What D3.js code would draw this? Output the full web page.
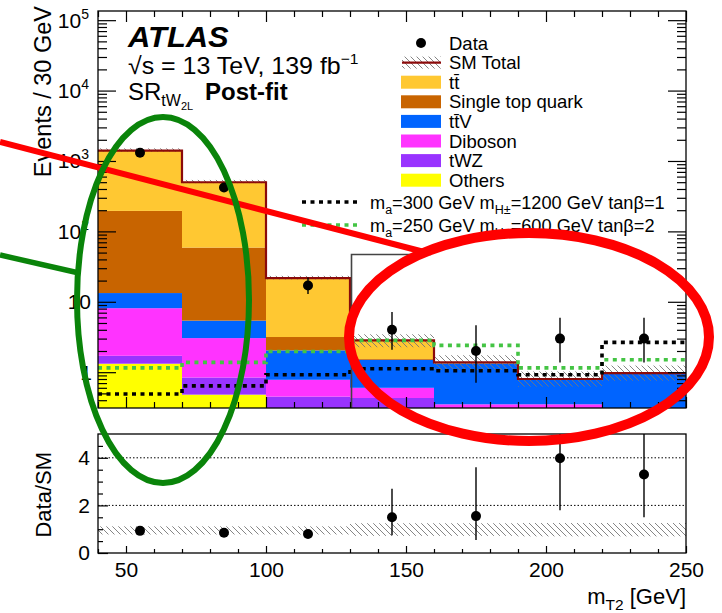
<!DOCTYPE html>
<html>
<head>
<meta charset="utf-8">
<script src="https://cdn.jsdelivr.net/npm/d3@7"></script>
<style>
  body { margin: 0; background: #fff; }
  svg { display: block; font-family: "Liberation Sans", Arial, Helvetica, sans-serif; }
</style>
</head>
<body>
<div id="viz"></div>
<script>
// ---- data ----
const binEdges = [40, 70, 100, 130, 160, 190, 220, 250];

const ttbar     = [1205, 440, 18.5, 1.29, 0.04, 0.01, 0.01];
const singleTop = [182, 53.5, 1.12, 0.04, 0.01, 0.01, 0.01];
const ttV       = [5.2, 2.35, 1.26, 0.90, 0.98, 0.43, 0.74];
const diboson   = [6.4, 2.21, 0.33, 0.17, 0.34, 0.34, 0.20];
const tWZ       = [0.39, 0.36, 0.43, 0.42, 0.005, 0.005, 0.005];
const others    = [1.32, 0.48, 0.02, 0.01, 0.005, 0.005, 0.005];

// relative SM uncertainty (upper panel hatch)
const smUncDown = [0.97, 0.97, 0.96, 0.80, 0.78, 0.78, 0.78];
const smUncUp   = [1.08, 1.08, 1.08, 1.22, 1.26, 1.28, 1.28];

const dataVals  = [1310, 420, 17, 4, 2, 3, 3];
const dataErrLo = [36, 20, 4.1, 1.91, 1.29, 1.63, 1.63];
const dataErrHi = [37, 21, 5.2, 3.16, 2.64, 2.92, 2.92];

const sigA = [0.49, 0.64, 0.92, 1.12, 1.05, 0.92, 2.65]; // ma=300, mH=1200, tanb=1
const sigB = [1.15, 1.38, 1.97, 2.83, 2.40, 1.15, 1.50]; // ma=250, mH=600, tanb=2

const ratioVals  = [0.93, 0.85, 0.80, 1.50, 1.55, 3.98, 3.30];
const ratioLow   = [0.90, 0.82, 0.72, 0.75, 0.55, 1.80, 1.50];
const ratioHigh  = [0.96, 0.88, 0.90, 2.70, 3.60, 7.40, 6.20];
const ratioBandLo = [0.78, 0.78, 0.78, 0.72, 0.72, 0.70, 0.70];
const ratioBandHi = [1.12, 1.12, 1.12, 1.25, 1.25, 1.26, 1.26];

const xTicksMajor = [50, 100, 150, 200, 250];
const ratioTicks = [0, 2, 4];
const ratioGrid = [2, 4];

const stackOrder = ["others", "tWZ", "diboson", "ttV", "singleTop", "ttbar"];
const colors = {
  ttbar: "#FFC832", singleTop: "#C86400", ttV: "#0064FF",
  diboson: "#FF33FF", tWZ: "#9933FF", others: "#FFFF00"
};
const legendLabels = [
  ["ttbar", [["tt\u0304"]]],
  ["singleTop", [["Single top quark"]]],
  ["ttV", [["tt\u0304V"]]],
  ["diboson", [["Diboson"]]],
  ["tWZ", [["tWZ"]]],
  ["others", [["Others"]]]
];

// ---- layout ----
const W = 722, H = 613;
const x = d3.scaleLinear().domain([40, 250]).range([98, 686]);
const yMin = 0.31, yMax = 1.35e5;
const y = d3.scaleLog().domain([yMin, yMax]).range([408, 11]);
const yr = d3.scaleLinear().domain([0, 5]).range([553, 434]);
const cl = v => Math.min(Math.max(v, yMin), yMax);

const svg = d3.select("#viz").append("svg")
  .attr("width", W).attr("height", H);

const defs = svg.append("defs");
const pat = defs.append("pattern")
  .attr("id", "hatch").attr("patternUnits", "userSpaceOnUse")
  .attr("width", 6).attr("height", 6);
pat.append("path").attr("d", "M-1,-1L7,7M-1,5L1,7M5,-1L7,1")
  .attr("stroke", "#777").attr("stroke-width", 0.9);

defs.append("clipPath").attr("id", "clipTop").append("rect")
  .attr("x", 98).attr("y", 11).attr("width", 588).attr("height", 397);
defs.append("clipPath").attr("id", "clipBot").append("rect")
  .attr("x", 98).attr("y", 434).attr("width", 588).attr("height", 119);

// rich text helper: segments [text, shiftPx, sizePx, weight]
function rich(g, px, py, segs, size, anchor, sx) {
  const t = g.append("text")
    .attr("transform", `translate(${px},${py}) scale(${sx || 1},1)`)
    .attr("font-size", size).attr("text-anchor", anchor || "start");
  let prev = 0;
  segs.forEach(s => {
    const sh = s[1] || 0;
    t.append("tspan").attr("dy", sh - prev)
      .attr("font-size", s[2] || size)
      .attr("font-weight", s[3] || null)
      .text(s[0]);
    prev = sh;
  });
  return t;
}

// ---- upper panel ----
const rows = binEdges.slice(0, -1).map((e, i) => ({
  ttbar: ttbar[i], singleTop: singleTop[i], ttV: ttV[i],
  diboson: diboson[i], tWZ: tWZ[i], others: others[i]
}));
const stacked = d3.stack().keys(stackOrder)(rows);
const smTotal = rows.map(r => d3.sum(stackOrder, k => r[k]));

const upper = svg.append("g").attr("clip-path", "url(#clipTop)");

upper.selectAll("g.layer")
  .data(stacked)
  .join("g")
    .attr("class", "layer")
    .attr("fill", d => colors[d.key])
  .selectAll("rect")
  .data(d => d)
  .join("rect")
    .attr("x", (d, i) => x(binEdges[i]))
    .attr("width", (d, i) => x(binEdges[i + 1]) - x(binEdges[i]))
    .attr("y", d => y(cl(d[1])))
    .attr("height", d => y(cl(d[0])) - y(cl(d[1])));

// SM uncertainty hatch
upper.selectAll("rect.unc")
  .data(smTotal)
  .join("rect")
    .attr("class", "unc")
    .attr("x", (d, i) => x(binEdges[i]))
    .attr("width", (d, i) => x(binEdges[i + 1]) - x(binEdges[i]))
    .attr("y", (d, i) => y(cl(d * smUncUp[i])))
    .attr("height", (d, i) => y(cl(d * smUncDown[i])) - y(cl(d * smUncUp[i])))
    .attr("fill", "url(#hatch)");

const stepLine = d3.line()
  .x(d => x(d[0])).y(d => y(cl(d[1])))
  .curve(d3.curveStepAfter);
const stepPts = vals => vals.map((v, i) => [binEdges[i], v]).concat([[binEdges[vals.length], vals[vals.length - 1]]]);

upper.append("path")
  .attr("d", stepLine(stepPts(smTotal)))
  .attr("fill", "none").attr("stroke", "#8B0A0A").attr("stroke-width", 2.2);

upper.append("path")
  .attr("d", stepLine(stepPts(sigB)))
  .attr("fill", "none").attr("stroke", "#44C444").attr("stroke-width", 3.6)
  .attr("stroke-dasharray", "4,4.5");

upper.append("path")
  .attr("d", stepLine(stepPts(sigA)))
  .attr("fill", "none").attr("stroke", "#000").attr("stroke-width", 3.6)
  .attr("stroke-dasharray", "4,4.5");

// grey outline box at 130 GeV
const boxTop = 47, boxRight = 159;
upper.append("path")
  .attr("d", `M${x(binEdges[3]) + 1.5},${y(yMin)}V${y(boxTop)}H${x(boxRight)}`)
  .attr("fill", "none").attr("stroke", "#444").attr("stroke-width", 1.6);

// data
const centers = binEdges.slice(0, -1).map((e, i) => (e + binEdges[i + 1]) / 2);
const dataG = upper.append("g");
dataG.selectAll("line")
  .data(dataVals)
  .join("line")
    .attr("x1", (d, i) => x(centers[i])).attr("x2", (d, i) => x(centers[i]))
    .attr("y1", (d, i) => y(cl(d - dataErrLo[i])))
    .attr("y2", (d, i) => y(cl(d + dataErrHi[i])))
    .attr("stroke", "#000").attr("stroke-width", 1.4);
dataG.selectAll("circle")
  .data(dataVals)
  .join("circle")
    .attr("cx", (d, i) => x(centers[i])).attr("cy", d => y(d))
    .attr("r", 5).attr("fill", "#000");

// frame + ticks (upper)
svg.append("rect").attr("x", 98).attr("y", 11).attr("width", 588).attr("height", 397)
  .attr("fill", "none").attr("stroke", "#000").attr("stroke-width", 1.3);

const logMajors = d3.range(0, 6).map(k => Math.pow(10, k));
const logMinors = [];
for (let k = -1; k <= 5; k++) for (let m = 2; m <= 9; m++) {
  const v = m * Math.pow(10, k);
  if (v > yMin && v < yMax) logMinors.push(v);
}
const xMinors = d3.range(40, 251, 10).filter(v => !xTicksMajor.includes(v));

function tickAxis(axis, tx, ty) {
  const g = svg.append("g").attr("transform", `translate(${tx},${ty})`).call(axis);
  g.select(".domain").remove();
  g.selectAll("line").attr("stroke", "#000").attr("stroke-width", 1.2);
  return g;
}
tickAxis(d3.axisLeft(y).tickValues(logMajors).tickSize(-18).tickFormat(""), 98, 0);
tickAxis(d3.axisLeft(y).tickValues(logMinors).tickSize(-9).tickFormat(""), 98, 0);
tickAxis(d3.axisRight(y).tickValues(logMajors).tickSize(-18).tickFormat(""), 686, 0);
tickAxis(d3.axisRight(y).tickValues(logMinors).tickSize(-9).tickFormat(""), 686, 0);
tickAxis(d3.axisBottom(x).tickValues(xTicksMajor).tickSize(-11).tickFormat(""), 0, 408);
tickAxis(d3.axisBottom(x).tickValues(xMinors).tickSize(-6).tickFormat(""), 0, 408);
tickAxis(d3.axisTop(x).tickValues(xTicksMajor).tickSize(-11).tickFormat(""), 0, 11);
tickAxis(d3.axisTop(x).tickValues(xMinors).tickSize(-6).tickFormat(""), 0, 11);

// log labels
const labG = svg.append("g").attr("fill", "#000");
logMajors.forEach((v, k) => {
  const py = y(v) + 7.5;
  if (k === 0) rich(labG, 92, py, [["1"]], 21, "end");
  else if (k === 1) rich(labG, 91, py, [["10"]], 21, "end");
  else rich(labG, 89, py, [["10"], [String(k), -9, 14]], 21, "end");
});

// y title
svg.append("text")
  .attr("transform", "translate(51,6) rotate(-90)")
  .attr("text-anchor", "end").attr("font-size", 23.5)
  .text("Events / 30 GeV");

// ATLAS labels
rich(svg, 128, 47, [["ATLAS", 0, 30, "bold"]], 30, "start", 1.03)
  .attr("font-style", "italic");
rich(svg, 128, 74, [["\u221As = 13 TeV, 139 fb"], ["\u22121", -10, 15]], 24, "start", 1.04);
rich(svg, 128, 100, [["SR"], ["tW", 6, 16], ["2L", 10, 11], ["", 0, 16]], 24);
svg.append("text").attr("x", 205).attr("y", 100)
  .attr("font-size", 24).attr("font-weight", "bold").text("Post-fit");

// legend
const leg = svg.append("g");
const legX = 449, legRow = 19.6, legY0 = 43, legFs = 18.5;
leg.append("circle").attr("cx", 421).attr("cy", legY0).attr("r", 5).attr("fill", "#000");
rich(leg, legX, legY0 + 6.5, [["Data"]], legFs);
leg.append("rect").attr("x", 402).attr("y", legY0 + legRow - 6).attr("width", 39).attr("height", 12)
  .attr("fill", "url(#hatch)");
leg.append("line").attr("x1", 402).attr("x2", 441)
  .attr("y1", legY0 + legRow).attr("y2", legY0 + legRow)
  .attr("stroke", "#8B0A0A").attr("stroke-width", 2.2);
rich(leg, legX, legY0 + legRow + 6.5, [["SM Total"]], legFs);
legendLabels.forEach((d, i) => {
  const cy = legY0 + legRow * (i + 2);
  leg.append("rect").attr("x", 401).attr("y", cy - 6.5).attr("width", 40).attr("height", 13)
    .attr("fill", colors[d[0]]);
  rich(leg, legX, cy + 6.5, d[1], legFs);
});

// signal legend
const sigLeg = [
  ["#000", 202, "300", "1200", "1"],
  ["#44C444", 225, "250", "600", "2"]
];
sigLeg.forEach(s => {
  leg.append("line").attr("x1", 302).attr("x2", 357).attr("y1", s[1]).attr("y2", s[1])
    .attr("stroke", s[0]).attr("stroke-width", 3.6).attr("stroke-dasharray", "4,4.5");
  rich(leg, 370, s[1] + 6.5, [
    ["m"], ["a", 5, 12.5], ["=" + s[2] + " GeV m", 0, 18.2], ["H\u00B1", 5, 12.5],
    ["=" + s[3] + " GeV tan\u03B2=" + s[4], 0, 18.2]
  ], 18.2);
});

// ---- lower panel ----
const bot = svg.append("g").attr("clip-path", "url(#clipBot)");
bot.selectAll("line.grid")
  .data(ratioGrid)
  .join("line")
    .attr("class", "grid")
    .attr("x1", 98).attr("x2", 686)
    .attr("y1", d => yr(d)).attr("y2", d => yr(d))
    .attr("stroke", "#000").attr("stroke-width", 1).attr("stroke-dasharray", "1.5,2");

bot.selectAll("rect.band")
  .data(ratioBandLo)
  .join("rect")
    .attr("class", "band")
    .attr("x", (d, i) => x(binEdges[i]))
    .attr("width", (d, i) => x(binEdges[i + 1]) - x(binEdges[i]))
    .attr("y", (d, i) => yr(ratioBandHi[i]))
    .attr("height", (d, i) => yr(d) - yr(ratioBandHi[i]))
    .attr("fill", "url(#hatch)");

bot.selectAll("line.err")
  .data(ratioVals)
  .join("line")
    .attr("class", "err")
    .attr("x1", (d, i) => x(centers[i])).attr("x2", (d, i) => x(centers[i]))
    .attr("y1", (d, i) => yr(ratioLow[i])).attr("y2", (d, i) => yr(ratioHigh[i]))
    .attr("stroke", "#000").attr("stroke-width", 1.4);
bot.selectAll("circle")
  .data(ratioVals)
  .join("circle")
    .attr("cx", (d, i) => x(centers[i])).attr("cy", d => yr(d))
    .attr("r", 5).attr("fill", "#000");

svg.append("rect").attr("x", 98).attr("y", 434).attr("width", 588).attr("height", 119)
  .attr("fill", "none").attr("stroke", "#000").attr("stroke-width", 1.3);

const xb = tickAxis(d3.axisBottom(x).tickValues(xTicksMajor).tickSize(-7).tickPadding(9), 0, 553);
xb.selectAll("text").attr("font-size", 21).attr("font-family", null);
tickAxis(d3.axisBottom(x).tickValues(xMinors).tickSize(-4).tickFormat(""), 0, 553);
const yb = tickAxis(d3.axisLeft(yr).tickValues(ratioTicks).tickSize(-10).tickPadding(8)
  .tickFormat(d3.format("d")), 98, 0);
yb.selectAll("text").attr("font-size", 21).attr("font-family", null);
tickAxis(d3.axisLeft(yr).tickValues(d3.range(0.5, 5, 0.5).filter(v => !ratioTicks.includes(v))).tickSize(-5).tickFormat(""), 98, 0);

svg.append("text")
  .attr("transform", "translate(51,452) rotate(-90)")
  .attr("text-anchor", "end").attr("font-size", 22)
  .text("Data/SM");

rich(svg, 686, 604, [["m"], ["T2", 6, 15.5], [" [GeV]", 0, 22]], 22, "end");

// ---- hand-drawn annotations on top ----
const ann = svg.append("g").attr("fill", "none");
ann.append("line").attr("x1", 0).attr("y1", 142).attr("x2", 428).attr("y2", 253)
  .attr("stroke", "#FF0000").attr("stroke-width", 6);
ann.append("line").attr("x1", 0).attr("y1", 255).attr("x2", 79).attr("y2", 273)
  .attr("stroke", "#0A840A").attr("stroke-width", 5.5);
ann.append("ellipse").attr("cx", 163).attr("cy", 300).attr("rx", 86).attr("ry", 183)
  .attr("stroke", "#0A840A").attr("stroke-width", 6);
ann.append("ellipse").attr("cx", 529).attr("cy", 337).attr("rx", 180).attr("ry", 104)
  .attr("stroke", "#FF0000").attr("stroke-width", 10);
</script>
</body>
</html>
